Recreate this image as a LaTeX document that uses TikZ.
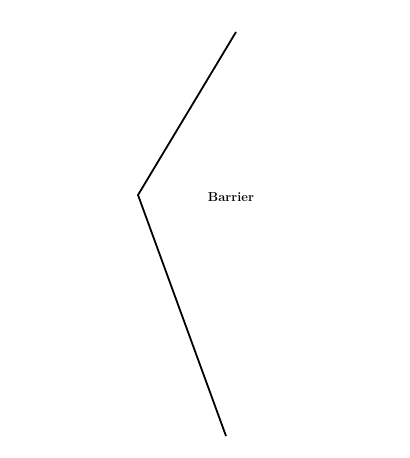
\documentclass[tikz,border=0pt]{standalone}
\usetikzlibrary{positioning}
\tikzset{
  barrierline/.style = {draw=black, line width=1.8pt, line join=miter},
}
\begin{document}
\begin{tikzpicture}[
    x=1bp, y=1bp,
    every node/.style={font=\fontsize{13}{15}\selectfont\bfseries},
    tag/.style={inner sep=1pt}
  ]
  \useasboundingbox (0,0) rectangle (409,458);

  %% --- the bent barrier ------------------------------------------------
  \coordinate (top)    at (236,426);
  \coordinate (bend)   at (138,263);
  \coordinate (bottom) at (226,22);
  \draw[barrierline] (top) -- (bend) -- (bottom);

  %% --- label -----------------------------------------------------------
  \node[tag] (barrier) at (231,261) {Barrier};
\end{tikzpicture}
\end{document}
